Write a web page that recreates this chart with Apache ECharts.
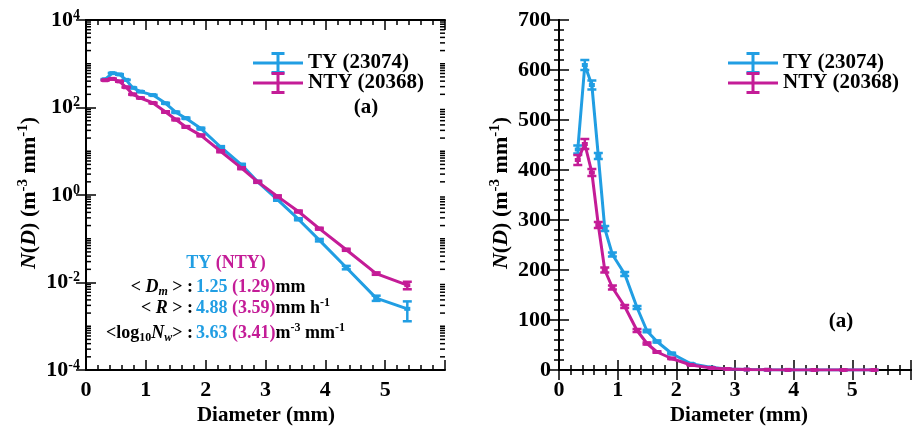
<!DOCTYPE html>
<html>
<head>
<meta charset="utf-8">
<script src="https://cdn.jsdelivr.net/npm/echarts@6/dist/echarts.min.js"></script>
<style>
  html, body { margin: 0; padding: 0; background: #fff; }
  #chart { width: 914px; height: 429px; }
</style>
</head>
<body>
<div id="chart"></div>
<script>
// diameter bins (mm) and mean spectra
const diam = [0.32, 0.44, 0.56, 0.67, 0.78, 0.91, 1.12, 1.33, 1.5, 1.67, 1.92, 2.25, 2.6, 2.87, 3.2, 3.55, 3.9, 4.35, 4.85, 5.37];
const tyND = [441, 610, 570, 428, 283, 231, 192, 125, 78, 57, 33, 12.5, 4.9, 2.0, 0.78, 0.28, 0.093, 0.022, 0.0044, 0.0025];
const ntyND = [420, 452, 395, 290, 200, 165, 127, 79, 53, 36, 23, 10, 4.1, 2.0, 0.93, 0.42, 0.17, 0.056, 0.016, 0.0087];
const tyErr = [8, 10, 9, 6, 5, 4, 4, 3, 2.5, 2, 1.5, 0.6, 0.25, 0.1, 0.04, 0.015, 0.006, 0.002, 0.0006, 0.0012];
const ntyErr = [10, 10, 7, 6, 5, 4, 3, 3, 2, 1.5, 1, 0.5, 0.2, 0.1, 0.05, 0.02, 0.008, 0.003, 0.001, 0.0017];
const seriesNames = ['TY (23074)', 'NTY (20368)'];

const BLUE = '#219EE3';
const MAG = '#C41C97';
const FONT = "'Liberation Serif', 'Times New Roman', serif";

const chart = echarts.init(document.getElementById('chart'));

// minor ticks on the log axis: k*10^n
const minorLog = [];
for (let n = -4; n < 4; n++) {
  for (let k = 1; k <= 9; k++) {
    if (k === 1 && n % 2 === 0) continue;
    minorLog.push(k * Math.pow(10, n));
  }
}

const pts = (ys) => diam.map((d, i) => [d, ys[i]]);
const errPts = (ys, es) => diam.map((d, i) => [d, ys[i] - es[i], ys[i] + es[i]]);

function errItem(params, api) {
  const x = api.value(0);
  const p1 = api.coord([x, api.value(1)]);
  const p2 = api.coord([x, api.value(2)]);
  const w = 4.5;
  const style = { stroke: api.visual('color'), lineWidth: 2.5 };
  return {
    type: 'group',
    children: [
      { type: 'line', shape: { x1: p1[0], y1: p1[1], x2: p2[0], y2: p2[1] }, style },
      { type: 'line', shape: { x1: p1[0] - w, y1: p1[1], x2: p1[0] + w, y2: p1[1] }, style },
      { type: 'line', shape: { x1: p2[0] - w, y1: p2[1], x2: p2[0] + w, y2: p2[1] }, style }
    ]
  };
}

// draws every log minor tick on both vertical sides in one go
function minorItem(params, api) {
  const style = { stroke: '#000', lineWidth: 1.5 };
  const children = [];
  minorLog.forEach(v => {
    const l = api.coord([0, v]);
    const r = api.coord([6, v]);
    children.push({ type: 'line', shape: { x1: l[0], y1: l[1], x2: l[0] + 5, y2: l[1] }, style });
    children.push({ type: 'line', shape: { x1: r[0], y1: r[1], x2: r[0] - 5, y2: r[1] }, style });
  });
  return { type: 'group', children };
}

const axisLine = { show: true, lineStyle: { color: '#000', width: 2 } };
const tickStyle = { show: true, inside: true, length: 10, lineStyle: { color: '#000', width: 1.5 } };
const minorStyle = { show: true, splitNumber: 5, length: 5, lineStyle: { color: '#000', width: 1.5 } };
const labelStyle = { color: '#000', fontFamily: FONT, fontWeight: 'bold', fontSize: 22 };

function xAxes(grid) {
  return [
    {
      gridIndex: grid, type: 'value', min: 0, max: 6, interval: 1, position: 'bottom',
      axisLine, axisTick: tickStyle, minorTick: minorStyle, splitLine: { show: false },
      axisLabel: Object.assign({ margin: 9, formatter: v => v === 6 ? '' : String(v) }, labelStyle)
    },
    {
      gridIndex: grid, type: 'value', min: 0, max: 6, interval: 1, position: 'top',
      axisLine, axisTick: tickStyle, minorTick: minorStyle, splitLine: { show: false },
      axisLabel: { show: false }
    }
  ];
}

const supRich = {
  b: { fontFamily: FONT, fontWeight: 'bold', fontSize: 22, lineHeight: 24, color: '#000' },
  s: { fontFamily: FONT, fontWeight: 'bold', fontSize: 14, lineHeight: 14, verticalAlign: 'top', color: '#000' }
};

const yAxes = [
  {
    gridIndex: 0, type: 'log', logBase: 10, min: 1e-4, max: 1e4, interval: 2, position: 'left',
    axisLine, axisTick: tickStyle, splitLine: { show: false }, minorTick: { show: false },
    axisLabel: {
      margin: 6,
      formatter: v => '{b|10}{s|' + Math.round(Math.log10(v)) + '}',
      rich: supRich
    }
  },
  {
    gridIndex: 0, type: 'log', logBase: 10, min: 1e-4, max: 1e4, interval: 2, position: 'right',
    axisLine, axisTick: tickStyle, splitLine: { show: false }, minorTick: { show: false },
    axisLabel: { show: false }
  },
  {
    gridIndex: 1, type: 'value', min: 0, max: 700, interval: 100, position: 'left',
    axisLine, axisTick: tickStyle, minorTick: minorStyle, splitLine: { show: false },
    axisLabel: Object.assign({ margin: 8 }, labelStyle)
  },
  {
    gridIndex: 1, type: 'value', min: 0, max: 700, interval: 100, position: 'right',
    axisLine, axisTick: tickStyle, minorTick: minorStyle, splitLine: { show: false },
    axisLabel: { show: false }
  }
];

function lineSeries(name, ys, color, xi, yi, z) {
  return {
    name, type: 'line', xAxisIndex: xi, yAxisIndex: yi, data: pts(ys),
    symbol: 'rect', symbolSize: [6, 4], z,
    itemStyle: { color }, lineStyle: { color, width: 3 }, animation: false
  };
}
function errSeries(name, ys, es, color, xi, yi, z) {
  return {
    name, type: 'custom', xAxisIndex: xi, yAxisIndex: yi, data: errPts(ys, es),
    encode: { x: 0, y: [1, 2] }, renderItem: errItem, z,
    itemStyle: { color }, animation: false
  };
}

const legendIcon = 'path://M0,9.5h50v3h-50z M23.5,1h3v20h-3z M18.5,0h13v3h-13z M18.5,19h13v3h-13z';
function legend(left) {
  return {
    left, top: 47, orient: 'vertical', itemGap: -2, itemWidth: 50, itemHeight: 22,
    icon: legendIcon, data: seriesNames, selectedMode: false,
    textStyle: { fontFamily: FONT, fontWeight: 'bold', fontSize: 21, color: '#000' }
  };
}

const annRich = {
  n: { fontFamily: FONT, fontWeight: 'bold', fontSize: 18, fill: '#000' },
  i: { fontFamily: FONT, fontWeight: 'bold', fontStyle: 'italic', fontSize: 18, fill: '#000' },
  sub: { fontFamily: FONT, fontWeight: 'bold', fontSize: 12, lineHeight: 12, verticalAlign: 'bottom', fill: '#000' },
  isub: { fontFamily: FONT, fontWeight: 'bold', fontStyle: 'italic', fontSize: 12, lineHeight: 12, verticalAlign: 'bottom', fill: '#000' },
  sup: { fontFamily: FONT, fontWeight: 'bold', fontSize: 12, lineHeight: 12, verticalAlign: 'top', fill: '#000' },
  bl: { fontFamily: FONT, fontWeight: 'bold', fontSize: 18, fill: BLUE },
  mg: { fontFamily: FONT, fontWeight: 'bold', fontSize: 18, fill: MAG }
};
function ann(x, y, text, align, extra) {
  return {
    type: 'text', x, y, z: 100,
    style: Object.assign({
      text, rich: annRich, align, verticalAlign: 'middle', lineHeight: 22,
      fontFamily: FONT, fontWeight: 'bold', fontSize: 18, fill: '#000'
    }, extra || {})
  };
}

const titleRich = {
  n: { fontFamily: FONT, fontWeight: 'bold', fontSize: 22, lineHeight: 26, fill: '#000' },
  i: { fontFamily: FONT, fontWeight: 'bold', fontStyle: 'italic', fontSize: 22, lineHeight: 26, fill: '#000' },
  sup: { fontFamily: FONT, fontWeight: 'bold', fontSize: 15, lineHeight: 15, verticalAlign: 'top', fill: '#000' }
};
function yTitle(x) {
  return {
    type: 'text', x, y: 193, rotation: Math.PI / 2, z: 100,
    style: {
      text: '{i|N}{n|(}{i|D}{n|) (m}{sup|-3}{n| mm}{sup|-1}{n|)}', rich: titleRich,
      align: 'center', verticalAlign: 'middle'
    }
  };
}
function xTitle(x) {
  return {
    type: 'text', x, y: 416, z: 100,
    style: {
      text: 'Diameter (mm)', align: 'center', verticalAlign: 'middle',
      fontFamily: FONT, fontWeight: 'bold', fontSize: 21, fill: '#000'
    }
  };
}
function panelTag(x, y) {
  return {
    type: 'text', x, y, z: 100,
    style: { text: '(a)', align: 'center', verticalAlign: 'middle', fontFamily: FONT, fontWeight: 'bold', fontSize: 21, fill: '#000' }
  };
}

chart.setOption({
  backgroundColor: '#fff',
  animation: false,
  grid: [
    { left: 86, top: 20, width: 359, height: 350 },
    { left: 559, top: 20, width: 360, height: 350 }
  ],
  xAxis: xAxes(0).concat(xAxes(1)),
  yAxis: yAxes,
  legend: [legend(248), legend(723)],
  series: [
    lineSeries(seriesNames[0], tyND, BLUE, 0, 0, 2),
    errSeries(seriesNames[0], tyND, tyErr, BLUE, 0, 0, 2),
    lineSeries(seriesNames[1], ntyND, MAG, 0, 0, 3),
    errSeries(seriesNames[1], ntyND, ntyErr, MAG, 0, 0, 3),
    lineSeries(seriesNames[0], tyND, BLUE, 2, 2, 2),
    errSeries(seriesNames[0], tyND, tyErr, BLUE, 2, 2, 2),
    lineSeries(seriesNames[1], ntyND, MAG, 2, 2, 3),
    errSeries(seriesNames[1], ntyND, ntyErr, MAG, 2, 2, 3),
    {
      type: 'custom', xAxisIndex: 0, yAxisIndex: 0, data: [[3, 1]], clip: false,
      encode: { x: 0, y: 1 }, renderItem: minorItem, z: 5, animation: false
    }
  ],
  graphic: [
    yTitle(29), yTitle(501),
    xTitle(266), xTitle(739),
    panelTag(366, 108), panelTag(841, 322),
    ann(226, 263, '{bl|TY }{mg|(NTY)}', 'center', { fontSize: 19 }),
    ann(193, 287, '{n|< }{i|D}{isub|m}{n| > :}', 'right'),
    ann(196, 287, '{bl|1.25 }{mg|(1.29)}{n|mm}', 'left'),
    ann(193, 308, '{n|< }{i|R}{n| > :}', 'right'),
    ann(196, 308, '{bl|4.88 }{mg|(3.59)}{n|mm h}{sup|-1}', 'left'),
    ann(193, 333, '{n|<log}{sub|10}{i|N}{isub|w}{n|> :}', 'right'),
    ann(196, 333, '{bl|3.63 }{mg|(3.41)}{n|m}{sup|-3}{n| mm}{sup|-1}', 'left')
  ]
});
</script>
</body>
</html>
